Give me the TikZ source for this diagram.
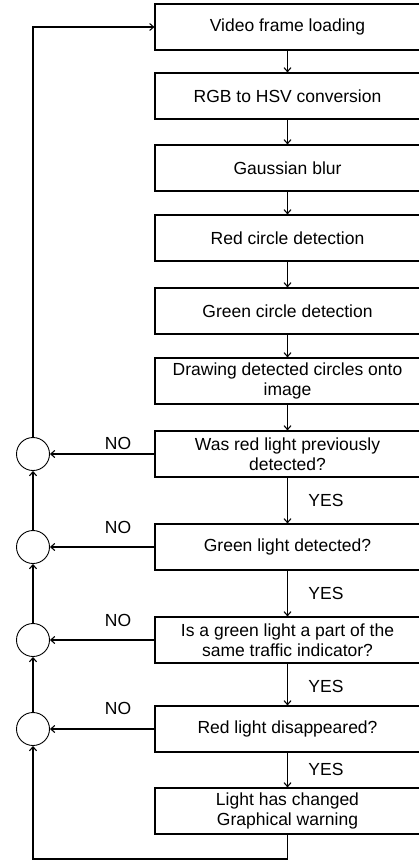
\documentclass[tikz,border=0pt]{standalone}
\usepackage{fontspec}
\setmainfont{Liberation Sans}
\usetikzlibrary{arrows.meta}

\begin{document}
\begin{tikzpicture}[x=1pt,y=-1pt,
  line width=1.1pt,
  >={Straight Barb[length=4pt,width=7pt]},
  stepbox/.style={draw, rectangle, minimum width=265pt, minimum height=46pt,
    inner sep=0pt, align=center, font=\fontsize{17.5}{20}\selectfont},
  joint/.style={draw, circle, minimum size=33pt, inner sep=0pt, line width=0.9pt},
  lbl/.style={font=\fontsize{17.5}{20}\selectfont, inner sep=0pt}
]
\useasboundingbox (0,0) rectangle (419,861);

% processing chain
\node[stepbox] (b1)  at (287.5,27)  {Video frame loading};
\node[stepbox] (b2)  at (287.5,96)  {RGB to HSV conversion};
\node[stepbox] (b3)  at (287.5,168) {Gaussian blur};
\node[stepbox] (b4)  at (287.5,238) {Red circle detection};
\node[stepbox] (b5)  at (287.5,311) {Green circle detection};
\node[stepbox] (b6)  at (287.5,381) {Drawing detected circles onto\\image};
\node[stepbox] (b7)  at (287.5,454) {Was red light previously\\detected?};
\node[stepbox] (b8)  at (287.5,547) {Green light detected?};
\node[stepbox] (b9)  at (287.5,640) {Is a green light a part of the\\same traffic indicator?};
\node[stepbox] (b10) at (287.5,729) {Red light disappeared?};
\node[stepbox] (b11) at (287.5,811) {Light has changed\\Graphical warning};

% return path junctions
\node[joint] (c1) at (33,454) {};
\node[joint] (c2) at (33,547) {};
\node[joint] (c3) at (33,640) {};
\node[joint] (c4) at (33,729) {};

% branch labels
\node[lbl] (n1) at (118,443) {NO};
\node[lbl] (n2) at (118,527) {NO};
\node[lbl] (n3) at (118,620) {NO};
\node[lbl] (n4) at (118,708) {NO};
\node[lbl] (y1) at (326,500) {YES};
\node[lbl] (y2) at (326,593) {YES};
\node[lbl] (y3) at (326,686) {YES};
\node[lbl] (y4) at (326,769) {YES};

\coordinate (bot) at (33,859);

% main flow
\draw[->] (b1) -- (b2);
\draw[->] (b2) -- (b3);
\draw[->] (b3) -- (b4);
\draw[->] (b4) -- (b5);
\draw[->] (b5) -- (b6);
\draw[->] (b6) -- (b7);
\draw[->] (b7) -- (b8);
\draw[->] (b8) -- (b9);
\draw[->] (b9) -- (b10);
\draw[->] (b10) -- (b11);

% NO branches
\draw[->] (b7.west) -- (c1.east);
\draw[->] (b8.west) -- (c2.east);
\draw[->] (b9.west) -- (c3.east);
\draw[->] (b10.west) -- (c4.east);

% loop back to the start
\draw[->] (b11.south) |- (bot) -- (c4.south);
\draw[->] (c4.north) -- (c3.south);
\draw[->] (c3.north) -- (c2.south);
\draw[->] (c2.north) -- (c1.south);
\draw[->] (c1.north) |- (b1.west);
\end{tikzpicture}
\end{document}
